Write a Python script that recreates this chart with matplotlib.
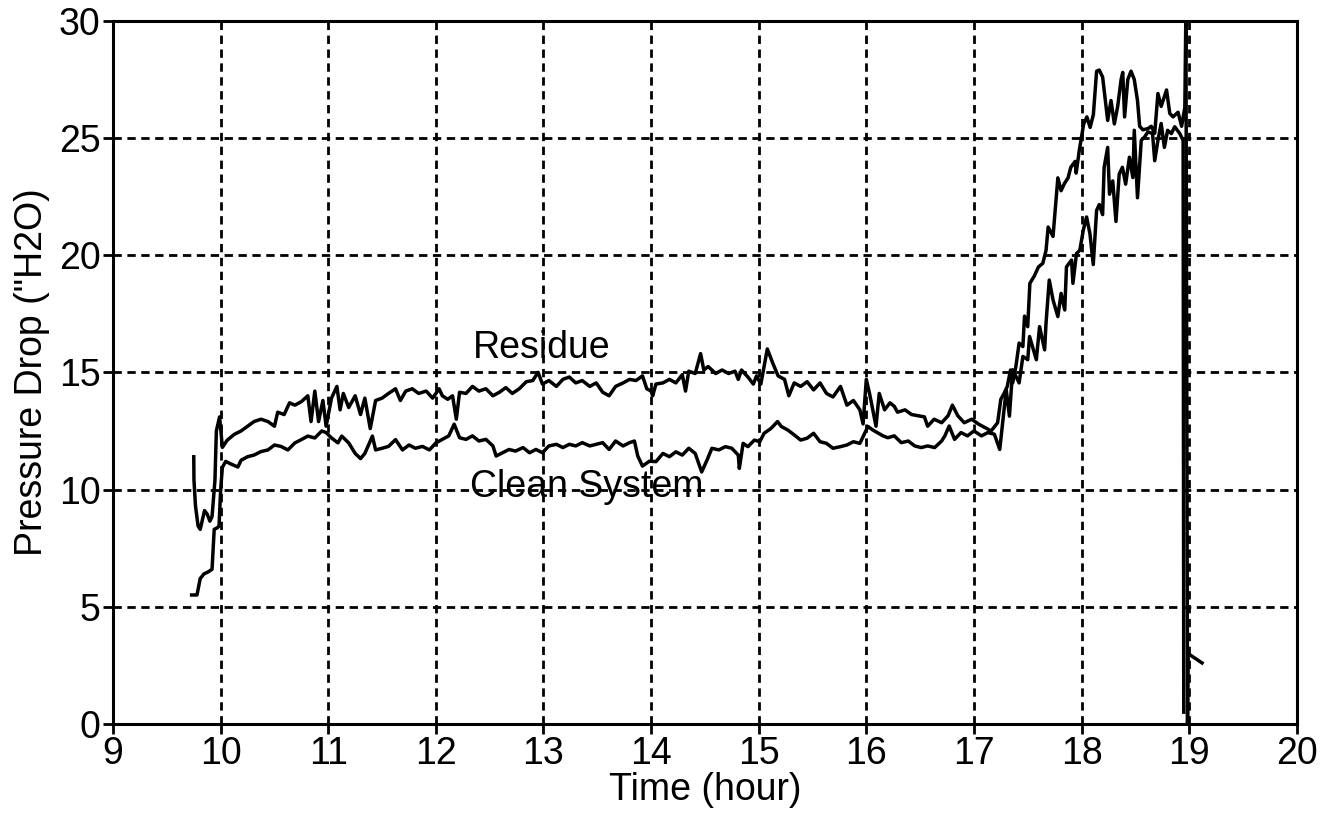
import numpy as np
import matplotlib
matplotlib.use("Agg")
import matplotlib.pyplot as plt

# values (time in hours, pressure drop in "H2O)
residue_t = [9.75, 9.752, 9.766, 9.79, 9.81, 9.835, 9.85, 9.875, 9.90, 9.92, 9.947, 9.96, 9.98, 9.99,
             10.016, 10.06, 10.125, 10.19, 10.25, 10.31, 10.375, 10.44, 10.50, 10.53,
             10.59, 10.64, 10.69, 10.75, 10.81, 10.84, 10.875, 10.91, 10.95, 10.98,
             11.03, 11.08, 11.11, 11.14, 11.19, 11.25, 11.30, 11.34, 11.39, 11.44,
             11.50, 11.56, 11.625, 11.67, 11.72, 11.78, 11.84, 11.91, 11.97, 12.03,
             12.06, 12.11, 12.155, 12.19, 12.22, 12.28, 12.34, 12.40, 12.465, 12.53,
             12.59, 12.65, 12.71, 12.775, 12.84, 12.90, 12.95, 12.99, 13.05, 13.12,
             13.18, 13.24, 13.30, 13.36, 13.43, 13.49, 13.55, 13.61, 13.67, 13.74,
             13.80, 13.86, 13.92, 13.96,
             14.0, 14.015, 14.045, 14.11, 14.17, 14.23, 14.29, 14.32, 14.35, 14.41,
             14.46, 14.49, 14.53, 14.60, 14.66, 14.72, 14.78, 14.81, 14.84, 14.90,
             14.95, 14.98, 15.02, 15.05, 15.08, 15.13, 15.18, 15.24, 15.28, 15.33,
             15.39, 15.45, 15.51, 15.57, 15.63, 15.69, 15.76, 15.82, 15.88, 15.94,
             15.97, 16.0,
             16.03, 16.06, 16.09, 16.12, 16.17, 16.22, 16.26, 16.29, 16.36, 16.42,
             16.48, 16.54, 16.57, 16.63, 16.70, 16.76, 16.80, 16.85, 16.91, 16.98,
             17.04, 17.10, 17.16, 17.22, 17.25, 17.28, 17.31,
             17.34, 17.36, 17.39, 17.42, 17.455, 17.47, 17.50, 17.52, 17.56, 17.60,
             17.64, 17.67, 17.69, 17.735, 17.78, 17.81, 17.84, 17.875, 17.90, 17.94,
             17.95, 17.98, 18.02, 18.05, 18.08, 18.11, 18.14,
             18.165, 18.196, 18.21, 18.243, 18.274, 18.305, 18.336, 18.368, 18.383, 18.40,
             18.43, 18.46, 18.49, 18.52, 18.54, 18.57, 18.617, 18.648, 18.68, 18.71,
             18.74, 18.79, 18.82, 18.85, 18.897, 18.93, 18.96,
             18.97, 18.985, 18.99, 19.12]
residue_v = [11.4, 10.4, 9.3, 8.45, 8.3, 8.8, 9.1, 8.95, 8.65, 8.85, 10.4, 12.5, 12.9, 13.1,
             11.8, 12.1, 12.35, 12.5, 12.7, 12.9, 13.0, 12.9, 12.7, 13.3,
             13.2, 13.7, 13.6, 13.75, 14.0, 12.9, 14.2, 12.9, 13.8, 12.7,
             13.9, 14.4, 13.4, 14.1, 13.5, 14.0, 13.2, 13.9, 12.6, 13.8,
             13.9, 14.1, 14.3, 13.8, 14.2, 14.3, 14.1, 14.2, 13.9, 14.3,
             14.0, 13.85, 14.0, 13.0, 14.15, 14.1, 14.4, 14.2, 14.3, 14.0,
             14.15, 14.35, 14.1, 14.3, 14.6, 14.65, 15.0, 14.5, 14.65, 14.4,
             14.7, 14.8, 14.55, 14.65, 14.4, 14.55, 14.15, 14.0, 14.4, 14.55,
             14.7, 14.65, 14.85, 14.3,
             14.2, 14.0, 14.5, 14.55, 14.7, 14.55, 14.9, 14.2, 15.05, 14.95,
             15.8, 15.1, 15.25, 14.95, 15.1, 14.95, 15.05, 14.7, 15.1, 14.8,
             14.5, 14.85, 14.5, 15.25, 16.0, 15.4, 14.85, 14.7, 14.0, 14.55,
             14.4, 14.6, 14.25, 14.55, 14.1, 13.95, 14.4, 13.6, 13.8, 13.4,
             12.8, 14.7,
             14.1, 13.4, 12.7, 14.1, 13.4, 13.7, 13.55, 13.3, 13.4, 13.2,
             13.15, 13.1, 12.7, 13.0, 12.85, 13.15, 13.6, 13.15, 12.85, 13.0,
             12.8, 12.65, 12.5, 12.85, 13.85, 14.1, 14.4,
             15.1, 14.55, 15.25, 16.25, 16.1, 17.4, 16.95, 18.8, 19.1, 19.5,
             19.65, 20.2, 21.2, 20.8, 23.3, 22.75, 23.05, 23.3, 23.75, 24.0,
             23.5, 24.5, 25.6, 25.9, 25.45, 26.0, 27.85,
             27.9, 27.6, 27.05, 25.75, 26.6, 25.6, 26.35, 27.5, 27.8, 25.9,
             27.5, 27.85, 27.5, 26.6, 25.5, 25.35, 25.4, 25.5, 25.2, 26.9,
             26.35, 27.05, 26.05, 25.9, 26.1, 25.5, 26.3,
             30.5, 0.0, 3.0, 2.6]

clean_t = [9.73, 9.78, 9.81, 9.845, 9.89, 9.92, 9.94, 9.97, 9.985, 10.0, 10.016, 10.047,
           10.09, 10.16, 10.19, 10.25, 10.31, 10.375, 10.44, 10.50, 10.56, 10.625,
           10.69, 10.75, 10.81, 10.875, 10.94, 10.98, 11.03, 11.09, 11.125, 11.19,
           11.25, 11.30, 11.34, 11.41, 11.44, 11.50, 11.56, 11.625, 11.69, 11.75,
           11.81, 11.875, 11.94, 12.0,
           12.06, 12.12, 12.17, 12.22, 12.28, 12.34, 12.40, 12.465, 12.53, 12.56,
           12.62, 12.68, 12.74, 12.81, 12.87, 12.93, 12.99, 13.05, 13.12, 13.18,
           13.24, 13.30, 13.36, 13.43, 13.49, 13.55, 13.61, 13.67, 13.74, 13.80,
           13.845, 13.876, 13.92, 13.985,
           14.045, 14.11, 14.17, 14.23, 14.29, 14.35, 14.41, 14.47, 14.52, 14.565,
           14.63, 14.69, 14.75, 14.81, 14.82, 14.855, 14.90, 14.96, 15.01, 15.05,
           15.115, 15.175, 15.21, 15.27, 15.33, 15.39, 15.45, 15.51, 15.57, 15.63,
           15.69, 15.76, 15.82, 15.88, 15.94, 15.985, 16.015, 16.06,
           16.155, 16.2, 16.26, 16.325, 16.39, 16.45, 16.51, 16.57, 16.635, 16.70,
           16.73, 16.77, 16.82, 16.88, 16.94, 17.0, 17.07, 17.13, 17.19, 17.24,
           17.27, 17.30,
           17.33, 17.36, 17.42, 17.455, 17.50, 17.517, 17.58, 17.61, 17.657, 17.67,
           17.70, 17.735, 17.78, 17.81, 17.844, 17.86, 17.907, 17.92, 17.953, 17.984,
           18.016, 18.047, 18.078, 18.109, 18.14,
           18.165, 18.196, 18.21, 18.243, 18.26, 18.29, 18.32, 18.35, 18.38, 18.41,
           18.445, 18.477, 18.49, 18.52, 18.555, 18.585, 18.617, 18.66, 18.68, 18.71,
           18.74, 18.77, 18.80, 18.835, 18.866, 18.913, 18.944, 18.95]
clean_v = [5.5, 5.5, 6.2, 6.4, 6.5, 6.6, 8.3, 8.37, 8.45, 10.0, 10.95, 11.2,
           11.1, 10.96, 11.25, 11.4, 11.47, 11.62, 11.69, 11.9, 11.84, 11.69,
           11.99, 12.13, 12.28, 12.2, 12.5, 12.43, 12.2, 11.99, 12.28, 11.99,
           11.54, 11.32, 11.54, 12.28, 11.69, 11.76, 11.84, 12.13, 11.69, 11.9,
           11.76, 11.84, 11.69, 11.99,
           12.14, 12.29, 12.79, 12.21, 12.14, 12.29, 12.07, 12.14, 11.86, 11.43,
           11.57, 11.71, 11.64, 11.79, 11.57, 11.71, 11.57, 11.86, 11.93, 11.79,
           11.93, 11.86, 12.0, 11.86, 11.93, 12.0, 11.71, 12.07, 11.86, 12.0,
           12.07, 11.43, 11.0, 11.21,
           11.19, 11.54, 11.4, 11.61, 11.47, 11.76, 11.54, 10.75, 11.26, 11.76,
           11.69, 11.83, 11.76, 11.47, 10.9, 11.97, 11.83, 12.11, 12.04, 12.4,
           12.61, 12.9, 12.69, 12.54, 12.33, 12.11, 12.19, 12.4, 12.04, 11.97,
           11.76, 11.83, 11.9, 12.04, 11.97, 12.4, 12.69, 12.54,
           12.29, 12.21, 12.29, 12.0, 12.07, 11.86, 11.79, 11.86, 11.79, 12.07,
           12.29, 12.71, 12.14, 12.43, 12.29, 12.5, 12.29, 12.43, 12.36, 11.71,
           13.0, 14.26,
           13.13, 15.11, 14.55, 15.68, 15.54, 16.53, 15.54, 16.95, 15.96, 17.1,
           18.94, 18.09, 17.38, 18.37, 17.66, 19.5, 19.79, 18.8, 20.07, 20.21,
           21.06, 21.63, 20.92, 19.6, 21.91,
           22.16, 21.73, 23.75, 24.6, 22.6, 23.17, 21.44, 23.46, 23.75, 23.03,
           24.18, 23.31, 25.33, 22.45, 24.9, 25.04, 25.26, 25.19, 24.03, 24.9,
           25.62, 24.6, 25.33, 25.19, 25.48, 25.19, 24.9, 0.5]

x_ticks = list(range(9, 21))
y_ticks = [0, 5, 10, 15, 20, 25, 30]

plt.rcParams['font.family'] = ['Liberation Sans', 'DejaVu Sans']

fig = plt.figure(figsize=(13.3, 8.33), dpi=100)
ax = fig.add_axes([0.085, 0.131, 0.890, 0.844])

ax.plot(residue_t, residue_v, color='black', lw=2.5, zorder=3)
ax.plot(clean_t, clean_v, color='black', lw=2.5, zorder=3)

ax.text(12.98, 16.05, "Residue", fontsize=27, ha='center', va='center', zorder=1)
ax.text(13.4, 10.1, "Clean System", fontsize=27, ha='center', va='center', zorder=1)

ax.set_xlim(9, 20)
ax.set_ylim(0, 30)
ax.set_xticks(x_ticks)
ax.set_yticks(y_ticks)
ax.grid(True, color='black', linestyle=(0, (3, 2)), linewidth=2.0, zorder=2)
ax.set_axisbelow(False)
for s in ax.spines.values():
    s.set_linewidth(2.2)
    s.set_zorder(4)
ax.tick_params(direction='out', length=7, width=2, labelsize=27, pad=2)

ax.set_xlabel("Time (hour)", fontsize=27, labelpad=0)
ax.set_ylabel('Pressure Drop ("H2O)', fontsize=27, labelpad=6)

plt.savefig("out.png", dpi=100)
